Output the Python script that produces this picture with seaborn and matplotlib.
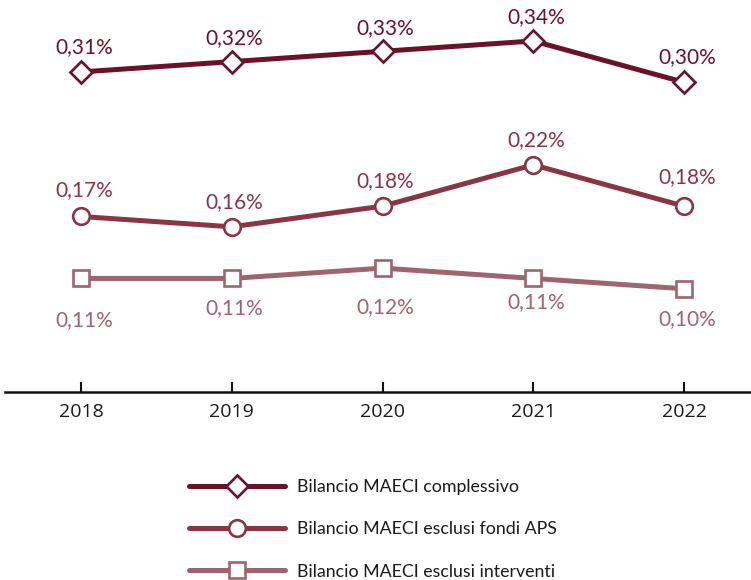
import numpy as np
import pandas as pd
import matplotlib.pyplot as plt
import seaborn as sns
from matplotlib.lines import Line2D

anni = [2018, 2019, 2020, 2021, 2022]
complessivo = [0.31, 0.32, 0.33, 0.34, 0.30]
esclusi_aps = [0.17, 0.16, 0.18, 0.22, 0.18]
esclusi_interventi = [0.11, 0.11, 0.12, 0.11, 0.10]

nomi = ['Bilancio MAECI complessivo',
        'Bilancio MAECI esclusi fondi APS',
        'Bilancio MAECI esclusi interventi']

sns.set_style('white')
plt.rcParams['font.family'] = ['Lato', 'DejaVu Sans']

colori = ['#6b1229', '#8a3545', '#9e6470']
marker = ['D', 'o', 's']
msize = [11, 12, 11]
# scostamento delle etichette (in punti) per ogni serie
offset_y = [[18, 17, 17, 17, 18],
            [19, 18, 18, 18, 21],
            [-30, -21, -28, -17, -22]]

fig = plt.figure(figsize=(7.51, 5.8), dpi=100)
ax = fig.add_axes([5 / 751, 188 / 580, 746 / 751, 382 / 580])

serie = [complessivo, esclusi_aps, esclusi_interventi]
for i, valori in enumerate(serie):
    df = pd.DataFrame({'anno': anni, 'valore': valori})
    sns.lineplot(data=df, x='anno', y='valore', ax=ax, color=colori[i],
                 linewidth=3.6, marker=marker[i], markersize=msize[i],
                 markerfacecolor='white', markeredgecolor=colori[i],
                 markeredgewidth=1.9, zorder=3 - i)
    for x, v, dy in zip(anni, valori, offset_y[i]):
        ax.annotate(f"{v:.2f}%".replace('.', ','), (x, v),
                    xytext=(2, dy), textcoords='offset points',
                    ha='center', va='center', fontsize=15, color=colori[i])

ax.set_xlim(2017.496, 2022.444)
ax.set_ylim(0, 0.37)
ax.set_xticks(anni)
ax.set_xticklabels([str(a) for a in anni], fontsize=14, color='#1a1a1a',
                   family=['Open Sans', 'DejaVu Sans'])
ax.set_yticks([])
ax.set_xlabel('')
ax.set_ylabel('')
for s in ['top', 'right', 'left']:
    ax.spines[s].set_visible(False)
ax.spines['bottom'].set_linewidth(1.8)
ax.spines['bottom'].set_color('#111111')
ax.tick_params(axis='x', direction='in', length=7, width=1.5,
               color='#111111', pad=8, bottom=True)

handles = [Line2D([], [], color=colori[i], linewidth=3.6, marker=marker[i],
                  markersize=msize[i], markerfacecolor='white',
                  markeredgecolor=colori[i], markeredgewidth=1.9)
           for i in range(3)]
fig.legend(handles, nomi, loc='upper left', bbox_to_anchor=(189 / 751, 1 - 479 / 580),
           frameon=False, fontsize=12.8, handlelength=5.4, handletextpad=0.68,
           labelspacing=1.48, borderpad=0, borderaxespad=0, labelcolor='#1a1a1a')

plt.savefig('out.png', dpi=100)
